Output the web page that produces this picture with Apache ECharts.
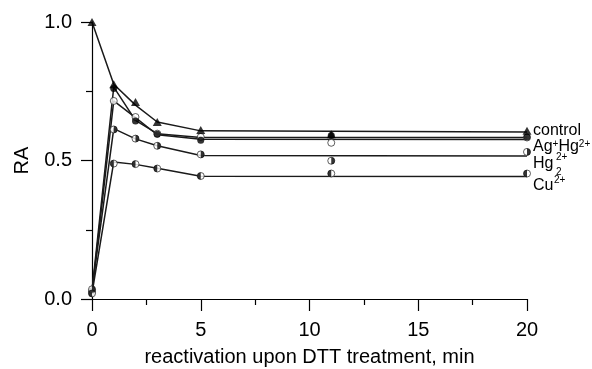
<!DOCTYPE html>
<html>
<head>
<meta charset="utf-8">
<script src="https://cdn.jsdelivr.net/npm/echarts@6/dist/echarts.min.js"></script>
<style>html,body{margin:0;padding:0;background:#fff}#c{width:592px;height:369px}</style>
</head>
<body>
<div id="c"></div>
<script>
// measured time points (min)
const times = [0, 1, 2, 3, 5, 11, 20];
// measured RA values
const control = [1.0, 0.775, 0.711, 0.639, 0.610, 0.595, 0.607];
const agHg = [0.03, 0.760, 0.643, 0.595, 0.573, 0.590, 0.585];
const agHgOpen = [0.025, 0.715, 0.657, 0.597, 0.585, 0.564, 0.583];
const hg2 = [0.035, 0.612, 0.579, 0.553, 0.522, 0.499, 0.531];
const cu = [0.02, 0.489, 0.487, 0.471, 0.444, 0.453, 0.453];
// fitted curves
const fitTimes = [0, 1, 2, 3, 5, 20];
const controlFit = [1.0, 0.775, 0.700, 0.639, 0.607, 0.603];
const agHgFit = [0.03, 0.765, 0.645, 0.597, 0.583, 0.583];
const agHgOpenFit = [0.025, 0.715, 0.655, 0.593, 0.577, 0.576];
const hg2Fit = [0.035, 0.615, 0.578, 0.553, 0.518, 0.516];
const cuFit = [0.02, 0.495, 0.486, 0.472, 0.443, 0.442];
// axis ticks
const xTicks = [0, 5, 10, 15, 20];
const yTicks = [0.0, 0.5, 1.0];
const xTitle = 'reactivation upon DTT treatment, min';
const yTitle = 'RA';

const FONT = '"Liberation Sans", Arial, Helvetica, sans-serif';
const pair = (xs, ys) => xs.map((x, i) => [x, ys[i]]);

const chart = echarts.init(document.getElementById('c'), null, {renderer: 'canvas'});

function fitLine(ys) {
  return {type: 'line', data: pair(fitTimes, ys), showSymbol: false, symbol: 'none',
    lineStyle: {color: '#1a1a1a', width: 1.5}, z: 2, silent: true, animation: false};
}
function pts(ys, opts) {
  return Object.assign({type: 'scatter', data: pair(times, ys), z: 5, silent: true, animation: false}, opts);
}
const RIGHT_HALF = 'path://M0,0 A10,10 0 0,1 0,20 Z';
const LEFT_HALF = 'path://M0,0 A10,10 0 0,0 0,20 Z';
const outline = {color: '#fff', borderColor: '#222', borderWidth: 0.9};

chart.setOption({
  animation: false,
  grid: {left: 92, right: 65, top: 22, bottom: 70, containLabel: false, outerBoundsMode: 'none'},
  xAxis: {
    type: 'value', min: 0, max: 20, interval: 5,
    name: xTitle, nameLocation: 'middle', nameGap: 48,
    nameTextStyle: {fontFamily: FONT, fontSize: 20, color: '#000'},
    axisLine: {show: true, lineStyle: {color: '#000', width: 1.2}},
    axisTick: {show: true, inside: false, length: 12, lineStyle: {color: '#000', width: 1.2}},
    minorTick: {show: true, splitNumber: 2, length: 6, lineStyle: {color: '#000', width: 1.2}},
    axisLabel: {fontFamily: FONT, fontSize: 20, color: '#000', margin: 21,
      formatter: v => xTicks.includes(v) ? String(v) : ''},
    splitLine: {show: false}
  },
  yAxis: {
    type: 'value', min: 0, max: 1, interval: 0.5,
    name: yTitle, nameLocation: 'middle', nameGap: 60, nameRotate: 90,
    nameTextStyle: {fontFamily: FONT, fontSize: 20, color: '#000'},
    axisLine: {show: true, lineStyle: {color: '#000', width: 1.2}},
    axisTick: {show: true, inside: false, length: 11, lineStyle: {color: '#000', width: 1.2}},
    minorTick: {show: true, splitNumber: 2, length: 6, lineStyle: {color: '#000', width: 1.2}},
    axisLabel: {fontFamily: FONT, fontSize: 20, color: '#000', margin: 20,
      formatter: v => yTicks.includes(v) ? v.toFixed(1) : ''},
    splitLine: {show: false}
  },
  series: [
    fitLine(cuFit), fitLine(hg2Fit), fitLine(agHgOpenFit), fitLine(agHgFit), fitLine(controlFit),
    pts(agHgOpen, {symbol: 'circle', symbolSize: 7, itemStyle: outline}),
    pts(agHg, {symbol: 'circle', symbolSize: 7, itemStyle: {color: '#000'}}),
    pts(hg2, {symbol: 'circle', symbolSize: 7, itemStyle: outline}),
    pts(hg2, {symbol: RIGHT_HALF, symbolSize: [3.5, 7], symbolOffset: [1.75, 0], itemStyle: {color: '#000'}, z: 6}),
    pts(cu, {symbol: 'circle', symbolSize: 7, itemStyle: outline}),
    pts(cu, {symbol: LEFT_HALF, symbolSize: [3.5, 7], symbolOffset: [-1.75, 0], itemStyle: {color: '#000'}, z: 6}),
    pts(control, {symbol: 'triangle', symbolSize: [9, 8], itemStyle: {color: '#000'}, z: 7})
  ],
  graphic: [
    {type: 'text', left: 533, top: 123, style: {text: 'control', font: '16px ' + FONT, fill: '#000'}},
    {type: 'text', left: 533, top: 139, style: {
      text: '{n|Ag}{s|+}{n|Hg}{s|2+}', fill: '#000',
      rich: {n: {fontFamily: FONT, fontSize: 16, lineHeight: 16, verticalAlign: 'bottom'},
             s: {fontFamily: FONT, fontSize: 10, lineHeight: 16, verticalAlign: 'top'}}}},
    {type: 'text', left: 533, top: 156, style: {text: 'Hg', font: '16px ' + FONT, fill: '#000'}},
    {type: 'text', left: 556, top: 152, style: {text: '2+', font: '10px ' + FONT, fill: '#000'}},
    {type: 'text', left: 556, top: 167, style: {text: '2', font: '10px ' + FONT, fill: '#000'}},
    {type: 'text', left: 533, top: 178, style: {text: 'Cu', font: '16px ' + FONT, fill: '#000'}},
    {type: 'text', left: 554, top: 175, style: {text: '2+', font: '10px ' + FONT, fill: '#000'}}
  ]
});
</script>
</body>
</html>
